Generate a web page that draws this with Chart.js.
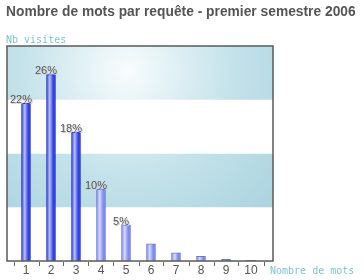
<!DOCTYPE html>
<html lang="fr">
<head>
  <meta charset="UTF-8">
  <title>Nombre de mots par requête</title>
  <style>
    body {
      margin: 0;
      padding: 0;
      background: #ffffff;
      font-family: Arial, "Liberation Sans", sans-serif;
    }
    .wrap {
      position: relative;
      width: 364px;
      height: 280px;
    }
    .title {
      position: absolute;
      left: 6px;
      top: 4px;
      font-size: 13.8px;
      font-weight: bold;
      color: #555555;
      white-space: nowrap;
    }
    .axis-label {
      position: absolute;
      font-family: "DejaVu Sans Mono", monospace;
      font-size: 10px;
      color: #7cc3d3;
      white-space: nowrap;
    }
  </style>
</head>
<body>

<div class="wrap">
  <canvas id="chart" width="364" height="280"></canvas>
  <div class="title">Nombre de mots par requête - premier semestre 2006</div>
  <div class="axis-label" style="left:6px; top:34px;">Nb visites</div>
  <div class="axis-label" style="left:270px; top:265px;">Nombre de mots</div>
</div>

<script src="https://cdn.jsdelivr.net/npm/chart.js"></script>
<script>
  const categories = [1, 2, 3, 4, 5, 6, 7, 8, 9, 10];
  const percentages = [22, 26, 18, 10, 5, 2.4, 1.15, 0.65, 0.22, 0.08];
  const shownLabels = ["22%", "26%", "18%", "10%", "5%", "", "", "", "", ""];
  const yMax = 30;

  // background bands + frame
  const bandsPlugin = {
    id: 'bands',
    beforeDatasetsDraw(chart) {
      const { ctx, chartArea: a, scales: { y } } = chart;
      const w = a.right - a.left;
      const grad = ctx.createRadialGradient(a.left + w * 0.45, a.top + 25, 5, a.left + w * 0.45, a.top + 25, 230);
      grad.addColorStop(0, '#f6fbfc');
      grad.addColorStop(0.45, '#c4e2ea');
      grad.addColorStop(1, '#a2cfdc');
      ctx.save();
      for (let i = 0; i < 4; i++) {
        const lo = i * yMax / 4, hi = (i + 1) * yMax / 4;
        const top = y.getPixelForValue(hi), bot = y.getPixelForValue(lo);
        ctx.fillStyle = i % 2 === 1 ? grad : '#ffffff';
        ctx.fillRect(a.left, top, w, bot - top);
      }
      ctx.restore();
    },
    afterDatasetsDraw(chart) {
      const { ctx, chartArea: a, scales: { x } } = chart;
      ctx.save();
      ctx.strokeStyle = '#5a5a5a';
      ctx.lineWidth = 1.5;
      ctx.strokeRect(a.left, a.top, a.right - a.left, a.bottom - a.top);
      ctx.lineWidth = 1;
      ctx.strokeStyle = '#666666';
      for (let v = 0.5; v <= 10.5; v++) {
        const px = Math.round(x.getPixelForValue(v)) + 0.5;
        ctx.beginPath();
        ctx.moveTo(px, a.bottom + 1);
        ctx.lineTo(px, a.bottom + 5);
        ctx.stroke();
      }
      // value labels
      const meta = chart.getDatasetMeta(0);
      ctx.font = '11px Arial, "Liberation Sans", sans-serif';
      ctx.textAlign = 'center';
      ctx.textBaseline = 'bottom';
      meta.data.forEach((bar, i) => {
        if (!shownLabels[i]) return;
        ctx.fillStyle = '#cccccc';
        ctx.fillText(shownLabels[i], bar.x - 4, bar.y + 3);
        ctx.fillStyle = '#555555';
        ctx.fillText(shownLabels[i], bar.x - 5, bar.y + 2);
      });
      ctx.restore();
    }
  };

  function barFill(c) {
    const chart = c.chart;
    const xs = chart.scales.x;
    const dark = c.dataIndex < 3 ? '#2f40e6' : '#7f8bee';
    const light = c.dataIndex < 3 ? '#b9c0f7' : '#d6daf9';
    if (!xs || c.type !== 'data') return dark;
    const px = xs.getPixelForValue(categories[c.dataIndex]);
    if (!isFinite(px)) return dark;
    const g = chart.ctx.createLinearGradient(px - 4.5, 0, px + 4.5, 0);
    g.addColorStop(0, dark);
    g.addColorStop(0.35, light);
    g.addColorStop(0.75, dark);
    g.addColorStop(1, dark);
    return g;
  }

  new Chart(document.getElementById('chart'), {
    type: 'bar',
    data: {
      datasets: [{
        data: categories.map((c, i) => ({ x: c, y: percentages[i] })),
        backgroundColor: barFill,
        borderColor: categories.map((c, i) => i < 3 ? '#2233cc' : '#6a76e0'),
        borderWidth: 1,
        barThickness: 9
      }]
    },
    options: {
      responsive: false,
      animation: false,
      layout: { padding: { left: 7, right: 91, top: 46, bottom: 0 } },
      plugins: {
        legend: { display: false },
        tooltip: { enabled: false }
      },
      scales: {
        x: {
          type: 'linear',
          offset: false,
          min: 0.24,
          max: 10.88,
          afterBuildTicks(axis) {
            axis.ticks = categories.map(v => ({ value: v }));
          },
          grid: { display: false, drawTicks: false },
          border: { display: false },
          ticks: {
            color: '#555555',
            padding: 3.5,
            font: { family: 'Arial, "Liberation Sans", sans-serif', size: 12, lineHeight: 1 }
          }
        },
        y: {
          display: false,
          min: 0,
          max: yMax
        }
      }
    },
    plugins: [bandsPlugin]
  });
</script>
</body>
</html>
